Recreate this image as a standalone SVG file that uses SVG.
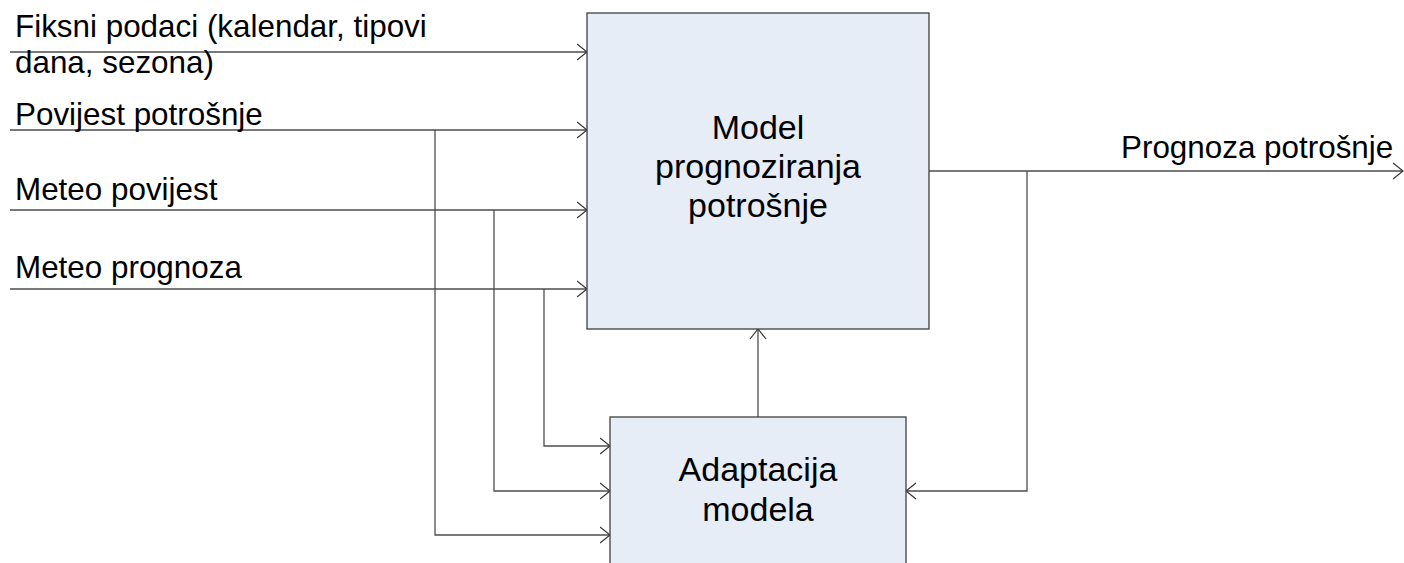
<svg xmlns="http://www.w3.org/2000/svg" width="1404" height="563" viewBox="0 0 1404 563">
<defs>
<style>
.box{fill:#E6EDF7;stroke:#3F3F3F;stroke-width:1.3}
.ln{fill:none;stroke:#4D4D4D;stroke-width:1.3;marker-end:url(#arr)}
.lbl{font-family:"Liberation Sans",Arial,sans-serif;font-size:31.4px;fill:#000}
.ctr{font-family:"Liberation Sans",Arial,sans-serif;font-size:34px;fill:#000;text-anchor:middle}
</style>
<marker id="arr" viewBox="0 0 11 18" refX="10.5" refY="9" markerWidth="11" markerHeight="18" markerUnits="userSpaceOnUse" orient="auto">
<path d="M0.5,1 L10.5,9 L0.5,17" fill="none" stroke="#333" stroke-width="1.2"/>
</marker>
</defs>
<rect width="1404" height="563" fill="#fff"/>
<g id="connectors">
<path class="ln" d="M10,52 H587"/>
<path class="ln" d="M10,130 H587"/>
<path class="ln" d="M10,210 H587"/>
<path class="ln" d="M10,289 H587"/>
<path class="ln" d="M435,130 V535 H610"/>
<path class="ln" d="M494,210 V491 H610"/>
<path class="ln" d="M544,289 V446 H610"/>
<path class="ln" d="M758,417 V329"/>
<path class="ln" d="M929,171 H1403"/>
<path class="ln" d="M1027,171 V491 H906"/>
</g>
<g id="model">
<rect class="box" x="587" y="13" width="342" height="316"/>
<text class="ctr" x="758" y="139">Model</text>
<text class="ctr" x="758" y="178">prognoziranja</text>
<text class="ctr" x="758" y="217">potrošnje</text>
</g>
<g id="adaptacija">
<rect class="box" x="610" y="417" width="296" height="160"/>
<text class="ctr" x="758" y="481">Adaptacija</text>
<text class="ctr" x="758" y="521">modela</text>
</g>
<g id="labels">
<text class="lbl" x="15" y="37">Fiksni podaci (kalendar, tipovi</text>
<text class="lbl" x="15" y="73">dana, sezona)</text>
<text class="lbl" x="15" y="125">Povijest potrošnje</text>
<text class="lbl" x="15" y="200">Meteo povijest</text>
<text class="lbl" x="15" y="278">Meteo prognoza</text>
<text class="lbl" x="1121" y="158">Prognoza potrošnje</text>
</g>
</svg>
